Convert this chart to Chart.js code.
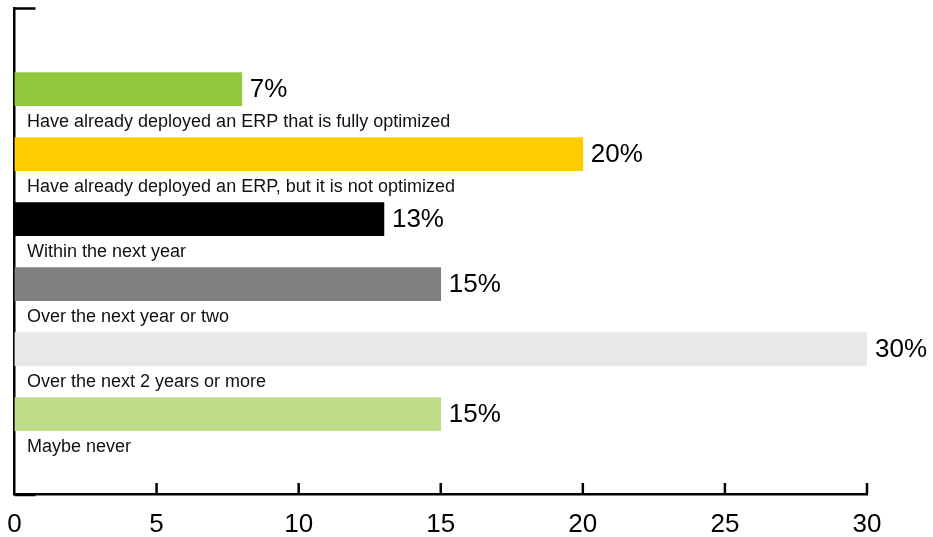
<!DOCTYPE html>
<html>
<head>
<meta charset="utf-8">
<script src="https://cdn.jsdelivr.net/npm/chart.js@4/dist/chart.umd.min.js"></script>
<style>
    body { margin: 0; background: #ffffff; }
    canvas { display: block; }
</style>
</head>
<body>
<canvas id="erp-chart" width="933" height="537"></canvas>
<script>
// Static data
const categories = [
    "Have already deployed an ERP that is fully optimized",
    "Have already deployed an ERP, but it is not optimized",
    "Within the next year",
    "Over the next year or two",
    "Over the next 2 years or more",
    "Maybe never",
];
const values = [8, 20, 13, 15, 30, 15];
const valueLabels = ["7%", "20%", "13%", "15%", "30%", "15%"];
const xTickValues = [0, 5, 10, 15, 20, 25, 30];

const barColors = ["#92c83e", "#ffcc00", "#000000", "#808080", "#e8e8e8", "#bedc8a"];
const fontFamily = "'Liberation Sans', Arial, sans-serif";
const axisWidth = 2.5;

// Labels under each bar + value at the end of each bar
const barLabels = {
    id: "barLabels",
    afterDatasetsDraw(chart) {
        const { ctx, chartArea } = chart;
        const meta = chart.getDatasetMeta(0);
        ctx.save();
        ctx.fillStyle = "#000000";
        meta.data.forEach((bar, i) => {
            const { x, y, height } = bar.getProps(["x", "y", "height"], true);
            ctx.font = "26px " + fontFamily;
            ctx.textAlign = "left";
            ctx.textBaseline = "middle";
            ctx.fillText(valueLabels[i], x + 8, y + 1);
            ctx.font = "18px " + fontFamily;
            ctx.fillStyle = "#111111";
            ctx.textBaseline = "alphabetic";
            ctx.fillText(categories[i], chartArea.left + 12.5, y + height / 2 + 21);
            ctx.fillStyle = "#000000";
        });
        ctx.restore();
    },
    afterDraw(chart) {
        const { ctx, chartArea, scales } = chart;
        ctx.save();
        ctx.strokeStyle = "#000000";
        ctx.lineWidth = axisWidth;
        ctx.beginPath();
        // stubs at both ends of the y axis
        ctx.moveTo(chartArea.left, chartArea.top);
        ctx.lineTo(chartArea.left + 21, chartArea.top);
        ctx.moveTo(chartArea.left, chartArea.bottom + 1);
        ctx.lineTo(chartArea.left + 21, chartArea.bottom + 1);
        // x ticks pointing up
        xTickValues.slice(1).forEach((v) => {
            const px = scales.x.getPixelForValue(v);
            ctx.moveTo(px, chartArea.bottom);
            ctx.lineTo(px, chartArea.bottom - 11);
        });
        ctx.stroke();
        ctx.restore();
    },
};

const chart = new Chart(document.getElementById("erp-chart"), {
    type: "bar",
    data: {
        datasets: [
            {
                data: values.map((v, i) => ({ x: v, y: i })),
                backgroundColor: barColors,
                borderWidth: 0,
                barThickness: 33,
            },
        ],
    },
    options: {
        indexAxis: "y",
        responsive: false,
        animation: false,
        layout: {
            padding: { left: 14.5, right: 66, top: 8.5, bottom: 0 },
        },
        scales: {
            x: {
                type: "linear",
                min: 0,
                max: 30,
                z: 1,
                afterFit: (scale) => {
                    scale.height = 43;
                    scale.paddingLeft = 0;
                    scale.paddingRight = 0;
                },
                ticks: {
                    stepSize: 5,
                    padding: 15,
                    color: "#000000",
                    font: { family: fontFamily, size: 26 },
                },
                grid: { display: false, drawTicks: false },
                border: { display: true, color: "#000000", width: axisWidth },
            },
            y: {
                type: "linear",
                bounds: "data",
                offset: false,
                reverse: true,
                min: -1.24,
                max: 6.23,
                z: 1,
                ticks: { display: false },
                grid: { display: false, drawTicks: false, offset: false },
                border: { display: true, color: "#000000", width: axisWidth },
            },
        },
        plugins: {
            legend: { display: false },
            tooltip: { enabled: false },
        },
    },
    plugins: [barLabels],
});
</script>
</body>
</html>
